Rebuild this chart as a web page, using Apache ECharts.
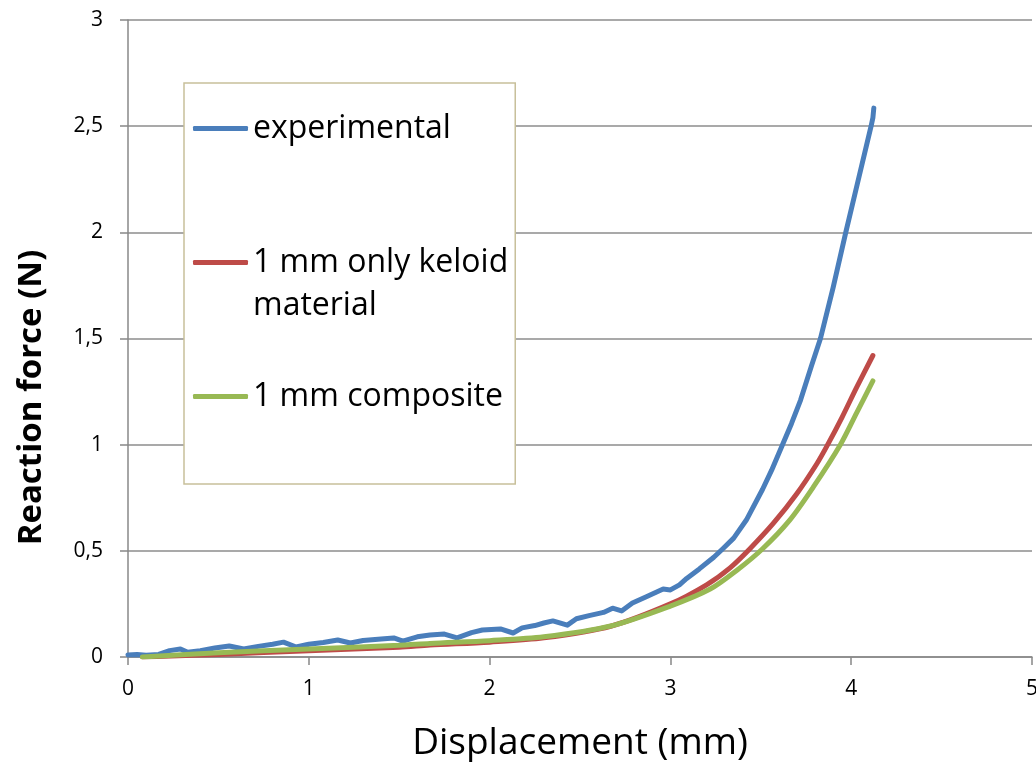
<!DOCTYPE html>
<html>
<head>
<meta charset="utf-8">
<script src="https://cdn.jsdelivr.net/npm/echarts@6/dist/echarts.min.js"></script>
<style>
  html, body { margin: 0; padding: 0; background: #fff; }
  #chart { width: 1036px; height: 762px; }
</style>
</head>
<body>
<div id="chart"></div>
<script>
// displacement (mm), reaction force (N)
const experimental = [
  [0.0, 0.01], [0.05, 0.012], [0.1, 0.008], [0.17, 0.012], [0.23, 0.03], [0.29, 0.038],
  [0.33, 0.022], [0.4, 0.03], [0.48, 0.042], [0.56, 0.052], [0.64, 0.038], [0.72, 0.05],
  [0.8, 0.06], [0.86, 0.07], [0.93, 0.047], [1.0, 0.06], [1.08, 0.068], [1.16, 0.08],
  [1.23, 0.066], [1.3, 0.078], [1.4, 0.085], [1.47, 0.09], [1.52, 0.075], [1.6, 0.095],
  [1.67, 0.104], [1.75, 0.108], [1.82, 0.09], [1.9, 0.115], [1.96, 0.127], [2.06, 0.132],
  [2.13, 0.113], [2.18, 0.137], [2.25, 0.148], [2.3, 0.16], [2.35, 0.17], [2.43, 0.15],
  [2.48, 0.18], [2.55, 0.195], [2.63, 0.21], [2.68, 0.23], [2.73, 0.217], [2.79, 0.254],
  [2.87, 0.285], [2.96, 0.32], [3.0, 0.316], [3.05, 0.34], [3.09, 0.37], [3.16, 0.415],
  [3.24, 0.47], [3.29, 0.51], [3.35, 0.56], [3.42, 0.645], [3.51, 0.79], [3.56, 0.88],
  [3.62, 1.0], [3.67, 1.1], [3.72, 1.21], [3.78, 1.37], [3.83, 1.5], [3.9, 1.74],
  [3.97, 2.0], [4.04, 2.25], [4.11, 2.5], [4.12, 2.54], [4.125, 2.585]
];
const keloidOnly = [
  [0.08, 0.0], [0.5, 0.012], [1.0, 0.03], [1.5, 0.046], [1.67, 0.056], [2.0, 0.07],
  [2.3, 0.09], [2.67, 0.145], [3.0, 0.25], [3.2, 0.34], [3.33, 0.42], [3.44, 0.51],
  [3.57, 0.63], [3.7, 0.77], [3.81, 0.91], [3.87, 1.0], [3.95, 1.13], [4.03, 1.27],
  [4.12, 1.42]
];
const composite = [
  [0.08, 0.0], [0.5, 0.02], [1.0, 0.038], [1.5, 0.055], [1.67, 0.064], [2.0, 0.077],
  [2.3, 0.095], [2.67, 0.146], [3.0, 0.24], [3.22, 0.32], [3.37, 0.41], [3.51, 0.51],
  [3.66, 0.645], [3.79, 0.8], [3.94, 1.0], [4.03, 1.15], [4.12, 1.3]
];
const seriesNames = ['experimental', '1 mm only keloid material', '1 mm composite'];
const seriesColors = ['#4a7ebb', '#be4b48', '#98b954'];

const font = '"Open Sans", "Noto Sans", sans-serif';
const chart = echarts.init(document.getElementById('chart'));

const option = {
  animation: false,
  grid: {
    left: 128, right: 4, top: 20, bottom: 105,
    containLabel: false, outerBoundsMode: 'none'
  },
  legend: {
    orient: 'vertical',
    left: 184,
    top: 83,
    padding: [24, 7, 66, 9],
    itemGap: 48,
    itemWidth: 55,
    itemHeight: 5,
    icon: 'roundRect',
    backgroundColor: '#fff',
    borderColor: '#c8c09a',
    borderWidth: 1.5,
    textStyle: { fontFamily: font, fontSize: 32, color: '#000', lineHeight: 43 },
    formatter: (name) => name === seriesNames[1] ? '\n1 mm only keloid\nmaterial' : name,
    data: seriesNames
  },
  xAxis: {
    type: 'value',
    min: 0,
    max: 5,
    interval: 1,
    name: 'Displacement (mm)',
    nameLocation: 'middle',
    nameGap: 68,
    nameTextStyle: { fontFamily: font, fontSize: 37, color: '#000' },
    axisLine: { lineStyle: { color: '#888', width: 1.5 } },
    axisTick: { show: true, length: 8, lineStyle: { color: '#888', width: 1.5 } },
    axisLabel: { fontFamily: font, fontSize: 21, color: '#000', margin: 22 },
    splitLine: { show: false }
  },
  yAxis: {
    type: 'value',
    min: 0,
    max: 3,
    interval: 0.5,
    name: 'Reaction force (N)',
    nameLocation: 'middle',
    nameGap: 80,
    nameTextStyle: {
      fontFamily: font, fontSize: 33, fontWeight: 'bold', color: '#000',
      padding: [0, 118, 0, 0]
    },
    axisLine: { show: true, lineStyle: { color: '#888', width: 1.5 } },
    axisTick: { show: true, length: 8, lineStyle: { color: '#888', width: 1.5 } },
    axisLabel: {
      fontFamily: font, fontSize: 21, color: '#000', margin: 25,
      formatter: (v) => String(v).replace('.', ',')
    },
    splitLine: { show: true, lineStyle: { color: '#8c8c8c', width: 1.5 } }
  },
  series: [
    {
      name: seriesNames[0], type: 'line', data: experimental, symbol: 'none',
      color: seriesColors[0], lineStyle: { width: 5, color: seriesColors[0], cap: 'round', join: 'round' },
      z: 3
    },
    {
      name: seriesNames[1], type: 'line', data: keloidOnly, symbol: 'none', smooth: 0.3,
      color: seriesColors[1], lineStyle: { width: 5, color: seriesColors[1], cap: 'round' },
      z: 2
    },
    {
      name: seriesNames[2], type: 'line', data: composite, symbol: 'none', smooth: 0.3,
      color: seriesColors[2], lineStyle: { width: 5, color: seriesColors[2], cap: 'round' },
      z: 4
    }
  ]
};

chart.setOption(option);
</script>
</body>
</html>
